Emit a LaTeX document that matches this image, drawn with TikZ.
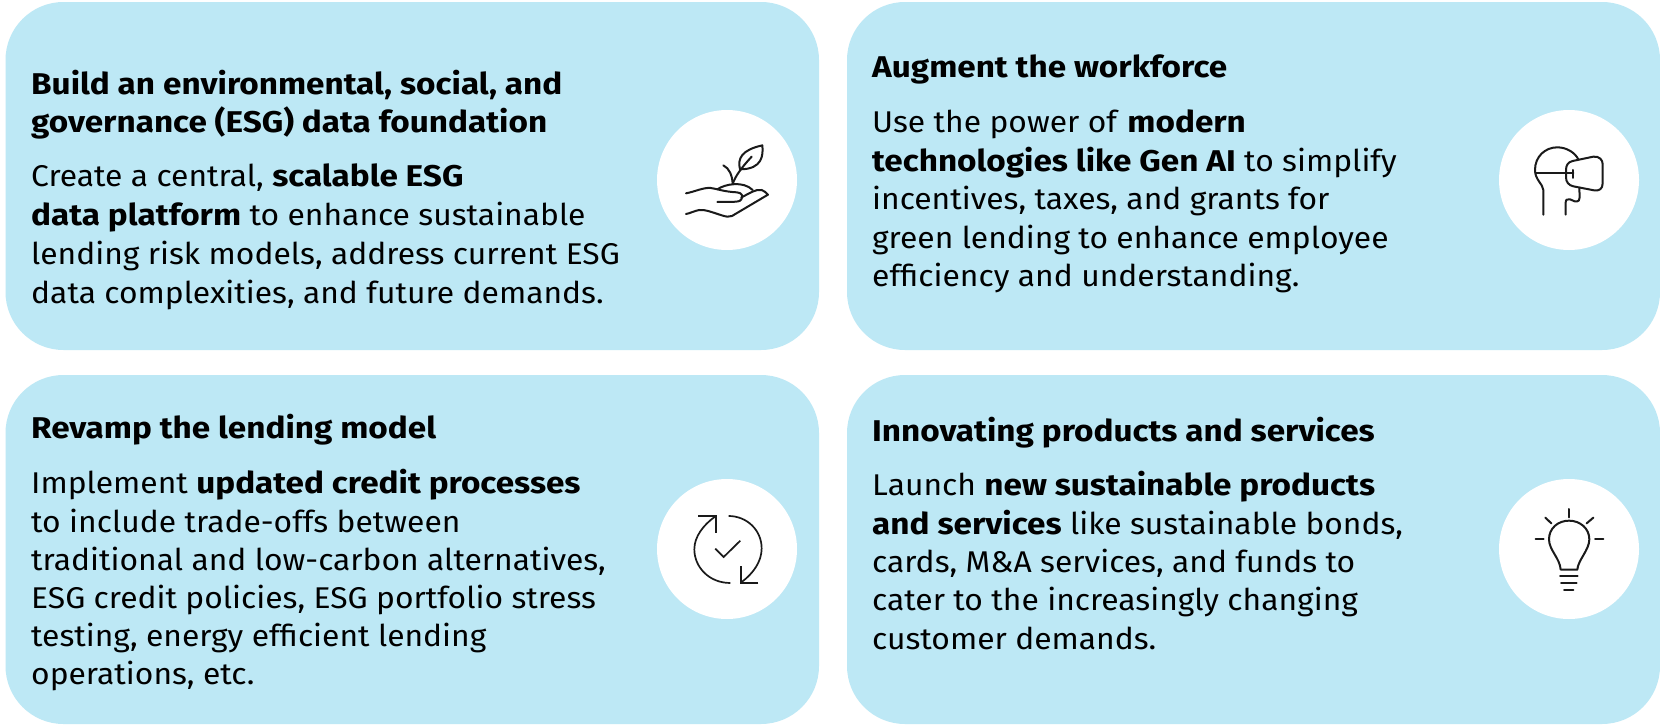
\documentclass[tikz,border=0pt]{standalone}
\usepackage{fontspec}
\setmainfont[FakeStretch=1.06,BoldFeatures={FakeStretch=1.11}]{Fira Sans}
\definecolor{panel}{HTML}{BDE8F5}
\definecolor{ink}{HTML}{1A1A1A}
\tikzset{
 panelbox/.style={fill=panel,draw=none,rounded corners=58pt},
 disc/.style={circle,fill=white,draw=none,minimum size=140pt,inner sep=0pt},
 txt/.style={anchor=base west,inner sep=0pt,font=\fontsize{30}{30}\selectfont,text=black},
 head/.style={txt,font=\fontsize{30}{30}\selectfont\bfseries},
 icon/.style={draw=ink,line width=2pt,line cap=round,line join=round},
 thinicon/.style={draw=ink,line width=1.7pt,line cap=butt,line join=miter},
}
\begin{document}
\begin{tikzpicture}[x=1pt,y=-1pt]
\useasboundingbox (0,0) rectangle (1660,728);
\fill[white] (0,0) rectangle (1660,728);
\fill[panelbox] (5.5,2) rectangle (819,350);
\fill[panelbox] (847,2) rectangle (1660,350);
\fill[panelbox] (5.5,375) rectangle (819,724);
\fill[panelbox] (847,375) rectangle (1660,724);
\node[disc] (c1) at (727,180) {};
\node[disc] (c2) at (1569,180) {};
\node[disc] (c3) at (727,549) {};
\node[disc] (c4) at (1569,549) {};
% text panel 1
\node[head] (a1) at (31,94) {Build an environmental, social, and};
\node[head] (a2) at (31,132) {governance (ESG) data foundation};
\node[txt] (a3) at (31,186) {Create a central, \textbf{scalable ESG}};
\node[txt] (a4) at (31,225) {\textbf{data platform} to enhance sustainable};
\node[txt] (a5) at (31,264) {lending risk models, address current ESG};
\node[txt] (a6) at (31,303) {data complexities, and future demands.};
% panel 2
\node[head] (b1) at (872,77) {Augment the workforce};
\node[txt] (b2) at (872,132) {Use the power of \textbf{modern}};
\node[txt] (b3) at (872,171) {\textbf{technologies like Gen AI} to simplify};
\node[txt] (b4) at (872,209) {incentives, taxes, and grants for};
\node[txt] (b5) at (872,248) {green lending to enhance employee};
\node[txt] (b6) at (872,286) {efficiency and understanding.};
% panel 3
\node[head] (d1) at (31,438) {Revamp the lending model};
\node[txt] (d2) at (31,493) {Implement \textbf{updated credit processes}};
\node[txt] (d3) at (31,532) {to include trade-offs between};
\node[txt] (d4) at (31,570) {traditional and low-carbon alternatives,};
\node[txt] (d5) at (31,608) {ESG credit policies, ESG portfolio stress};
\node[txt] (d6) at (31,646) {testing, energy efficient lending};
\node[txt] (d7) at (31,684) {operations, etc.};
% panel 4
\node[head] (e1) at (872,441) {Innovating products and services};
\node[txt] (e2) at (872,495) {Launch \textbf{new sustainable products}};
\node[txt] (e3) at (872,534) {\textbf{and services} like sustainable bonds,};
\node[txt] (e4) at (872,572) {cards, M\&A services, and funds to};
\node[txt] (e5) at (872,610) {cater to the increasingly changing};
\node[txt] (e6) at (872,649) {customer demands.};
% icon 1
\begin{scope}[shift={(640,90)},x=0.3333pt,y=-0.3333pt]
\draw[icon] (138,310) .. controls (165,305) and (190,292) .. (212,294) .. controls (230,296) and (250,305) .. (290,307) .. controls (306,308) and (310,318) .. (304,328) .. controls (300,336) and (290,336) .. (232,336);
\draw[icon] (304,322) .. controls (330,310) and (345,297) .. (365,300) .. controls (372,302) and (378,308) .. (384,314) -- (276,378) .. controls (268,382) and (258,380) .. (245,376) .. controls (220,368) and (195,358) .. (178,360) .. controls (165,362) and (150,370) .. (138,372);
\draw[icon] (232,298) .. controls (255,282) and (310,272) .. (338,300);
\draw[icon] (278,282) .. controls (285,262) and (298,240) .. (335,200);
\draw[icon] (278,280) .. controls (276,255) and (268,235) .. (250,226);
\draw[icon] (300,238) .. controls (292,205) and (305,180) .. (367,166) .. controls (370,195) and (368,238) .. (300,238);
\end{scope}
% icon 2
\begin{scope}[shift={(1480,90)},x=0.3333pt,y=-0.3333pt]
\draw[icon] (190,374) -- (190,300) .. controls (188,280) and (165,270) .. (165,240) .. controls (165,200) and (195,172) .. (232,172) .. controls (260,172) and (285,188) .. (295,208);
\draw[icon] (168,250) -- (280,250);
\draw[icon] (280,240) -- (280,264);
\draw[icon] (257,374) -- (257,338) .. controls (257,328) and (262,327) .. (270,328) -- (284,334) .. controls (296,336) and (300,330) .. (299,322) -- (298,294);
\draw[icon] (258,240) .. controls (258,226) and (264,216) .. (278,213) -- (340,200) .. controls (358,198) and (368,210) .. (368,222) -- (368,280) .. controls (368,296) and (358,304) .. (342,301) -- (280,289) .. controls (266,286) and (258,276) .. (258,262) -- cycle;
\end{scope}
% icon 3
\begin{scope}[shift={(640,460)},x=0.3333pt,y=-0.3333pt]
\draw[thinicon] (271,369) .. controls (206,369) and (163,320) .. (163,268) .. controls (163,230) and (190,195) .. (225,170);
\draw[thinicon] (174,169) -- (227,169) -- (227,218);
\draw[thinicon] (266,168) .. controls (320,168) and (365,210) .. (365,265) .. controls (365,305) and (340,340) .. (304,367);
\draw[thinicon] (355,369) -- (302,369) -- (302,318);
\draw[thinicon] (226,266) -- (251,291) -- (301,242);
\end{scope}
% icon 4
\begin{scope}[shift={(1480,460)},x=0.3333pt,y=-0.3333pt]
\draw[icon] (268,147) -- (268,172);
\draw[icon] (196,173) -- (214,190);
\draw[icon] (340,173) -- (320,190);
\draw[icon] (167,238) -- (191,238);
\draw[icon] (345,238) -- (370,238);
\draw[icon] (242,329) -- (292,329) .. controls (294,300) and (328,270) .. (328,238) .. controls (328,205) and (300,182) .. (267,182) .. controls (234,182) and (207,205) .. (207,238) .. controls (207,270) and (240,295) .. (242,329);
\draw[icon] (240,349) -- (293,349);
\draw[icon] (243,369) -- (290,369);
\draw[icon] (252,389) -- (280,389);
\end{scope}
\end{tikzpicture}
\end{document}
